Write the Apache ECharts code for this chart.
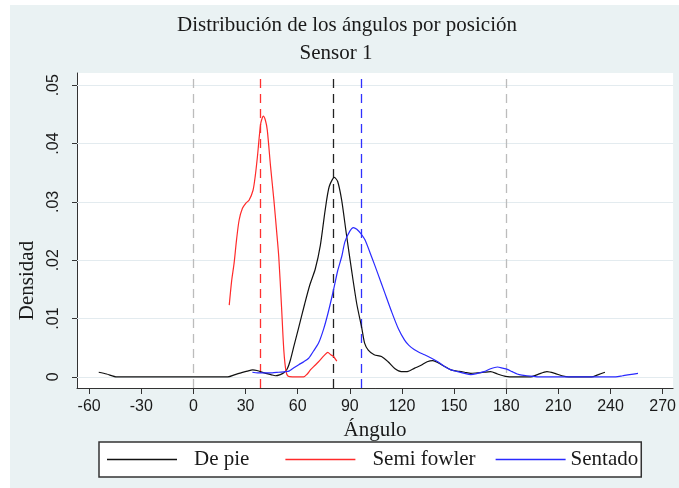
<!DOCTYPE html>
<html>
<head>
<meta charset="utf-8">
<script src="https://cdn.jsdelivr.net/npm/echarts@6/dist/echarts.min.js"></script>
<style>
html,body{margin:0;padding:0;background:#fff;}
#bg{position:absolute;left:10px;top:5px;width:669px;height:483px;background:#eaf2f3;}
#main{position:absolute;left:0;top:0;width:679px;height:488px;}
</style>
</head>
<body>
<div id="bg"></div>
<div id="main"></div>
<script>
// ---- data ----
const titleLine1 = 'Distribución de los ángulos por posición';
const titleLine2 = 'Sensor 1';
const seriesNames = ['De pie', 'Semi fowler', 'Sentado'];

const dePie = [
  [-54.5,0.0008],[-50,0.0005],[-44,0],[-30,0],[0,0],[10,0],[19.8,0],[24,0.0004],[27.4,0.0007],
  [31,0.0010],[34.1,0.0012],[36.5,0.0011],[41.6,0.0006],[44.5,0.0004],[47.2,0.0002],[50,0.0004],
  [52,0.0007],[54,0.0014],[55.8,0.0029],[58,0.0055],[60.6,0.0085],[64,0.0125],[67,0.0158],
  [70.1,0.0185],[73,0.0225],[75.8,0.0286],[78.1,0.0326],[81.1,0.0342],[83,0.0335],[85.3,0.0303],
  [88,0.0245],[91,0.0183],[94,0.0125],[96.8,0.0085],[98.5,0.0058],[100.6,0.0046],[104,0.0038],
  [108.2,0.0035],[112,0.0026],[116,0.0014],[119.6,0.0009],[123,0.0009],[127.3,0.0015],[131,0.0020],
  [134.5,0.0026],[137.7,0.0028],[141,0.0024],[144.5,0.0018],[148.2,0.0012],[152,0.0010],[156,0.0008],
  [159.6,0.0006],[163.5,0.0007],[167.2,0.0008],[171,0.0009],[175,0.0005],[179.6,0.0001],[185,0],
  [194,0],[198,0.0004],[203.4,0.0009],[208,0.0006],[212,0.0002],[216,0],[229,0],[233,0.0004],[236.8,0.0008]
];
const semiFowler = [
  [20.6,0.0123],[22,0.0165],[23.4,0.0195],[24.8,0.0235],[26.3,0.0269],[28.2,0.0289],[30.2,0.0298],
  [32,0.0303],[34.3,0.0320],[35.6,0.0345],[36.8,0.0377],[38.7,0.0434],[40.2,0.0447],[41.4,0.0440],
  [42.5,0.0423],[44.4,0.0360],[46.3,0.0303],[47.8,0.0252],[49.1,0.0206],[50.7,0.0120],[52,0.0046],
  [53.3,0.0009],[54.5,0.0001],[57,0],[63.4,0],[65.5,0.0005],[67.3,0.0012],[70,0.0020],[72,0.0026],
  [75,0.0036],[77.3,0.0042],[79,0.0038],[80.6,0.0035],[82.5,0.0027]
];
const sentado = [
  [33.9,0.0008],[37,0.0007],[40,0.0007],[45.3,0.0007],[49,0.0008],[53,0.0009],[55,0.0010],[57,0.0014],
  [60.6,0.0021],[63.5,0.0026],[66.3,0.0032],[69,0.0044],[72,0.0058],[74.9,0.0082],[77.5,0.0110],
  [80.6,0.0149],[83,0.0182],[85.3,0.0206],[87.2,0.0232],[90,0.0250],[92,0.0256],[94,0.0253],
  [96.5,0.0245],[98.7,0.0235],[102.5,0.0206],[106,0.0178],[110,0.0145],[114,0.0112],[118,0.0082],
  [121.5,0.0063],[124,0.0054],[127,0.0047],[130,0.0042],[133,0.0038],[137,0.0032],[140.6,0.0026],
  [144.5,0.0018],[148.2,0.0012],[152,0.0009],[156,0.0006],[159.6,0.0004],[163.4,0.0006],[167.2,0.0009],
  [171,0.0014],[174.9,0.0017],[178,0.0015],[180.6,0.0013],[183.4,0.0009],[186.3,0.0005],[189,0.0003],
  [192,0.0002],[200,0],[243,0],[247,0.0002],[251,0.0004],[255.8,0.0006]
];
const referenceX = [0, 180];
const meanX = [38.7, 80.6, 96.4];   // Semi fowler, De pie, Sentado
const xTicks = [-60,-30,0,30,60,90,120,150,180,210,240,270];
const yTicks = [0,0.01,0.02,0.03,0.04,0.05];
const yTickLabels = ['0','.01','.02','.03','.04','.05'];

// ---- styles ----
const colors = ['#111111', '#ff2a2a', '#2a2aff'];
const serif = 'Liberation Serif';
const sans = 'Liberation Sans';

const chart = echarts.init(document.getElementById('main'), null, {renderer: 'canvas'});

const gridLines = yTicks.map(v => ({yAxis: v, lineStyle: {color: '#e3ebef', type: 'solid', width: 1}}));
const refLines = referenceX.map(v => ({xAxis: v, lineStyle: {color: '#bcbcbc', type: [9, 6], width: 1.3}}));
const meanLines = [
  {xAxis: meanX[0], lineStyle: {color: '#ff3030', type: [9, 6], width: 1.3}},
  {xAxis: meanX[1], lineStyle: {color: '#222222', type: [9, 6], width: 1.3}},
  {xAxis: meanX[2], lineStyle: {color: '#3030ff', type: [9, 6], width: 1.3}}
];

function mkSeries(name, data, color) {
  return {
    name: name, type: 'line', data: data, showSymbol: false, symbol: 'none',
    smooth: 0.25, lineStyle: {color: color, width: 1.2}, itemStyle: {color: color},
    z: 5, animation: false
  };
}

const legendRich = {
  a: {fontFamily: serif, fontSize: 21, color: '#1a1a1a', lineHeight: 21, padding: [0, 16, 0, 12]},
  b: {fontFamily: serif, fontSize: 21, color: '#1a1a1a', lineHeight: 21, padding: [0, 0, 0, 12]},
  c: {fontFamily: serif, fontSize: 21, color: '#1a1a1a', lineHeight: 21, padding: [0, 0, 0, 0]}
};

const option = {
  backgroundColor: 'transparent',
  animation: false,
  title: [
    {text: titleLine1, left: 347, top: 15, textAlign: 'center', padding: 0,
     textStyle: {fontFamily: serif, fontSize: 21, fontWeight: 'normal', color: '#1a1a1a', lineHeight: 21}},
    {text: titleLine2, left: 336, top: 43, textAlign: 'center', padding: 0,
     textStyle: {fontFamily: serif, fontSize: 21, fontWeight: 'normal', color: '#1a1a1a', lineHeight: 21}}
  ],
  legend: {
    data: seriesNames, left: 99, top: 442, padding: [7, 3, 7, 8],
    backgroundColor: '#ffffff', borderColor: '#333', borderWidth: 1.5, borderRadius: 0,
    icon: 'rect', itemWidth: 70, itemHeight: 1.5, itemGap: 20,
    formatter: function (name) {
      const k = name === seriesNames[0] ? 'a' : (name === seriesNames[1] ? 'b' : 'c');
      return '{' + k + '|' + name + '}';
    },
    textStyle: {fontFamily: serif, fontSize: 21, color: '#1a1a1a', lineHeight: 21, rich: legendRich}
  },
  grid: {left: 77, top: 73, right: 2, bottom: 100, show: true, backgroundColor: '#ffffff', borderWidth: 0, containLabel: false},
  xAxis: {
    type: 'value', min: -67, max: 276,
    name: 'Ángulo', nameLocation: 'middle', nameGap: 28,
    nameTextStyle: {fontFamily: serif, fontSize: 21, color: '#1a1a1a', lineHeight: 21},
    axisLine: {show: true, onZero: false, lineStyle: {color: '#333', width: 1}},
    axisTick: {show: true, length: 6, customValues: xTicks, lineStyle: {color: '#333'}},
    axisLabel: {customValues: xTicks, margin: 11, fontFamily: sans, fontSize: 16, color: '#1a1a1a', lineHeight: 16},
    splitLine: {show: false}
  },
  yAxis: {
    type: 'value', min: -0.0019, max: 0.0521,
    name: 'Densidad', nameLocation: 'middle', nameGap: 34, nameRotate: 90,
    nameTextStyle: {fontFamily: serif, fontSize: 21, color: '#1a1a1a', lineHeight: 21, padding: [0, 100, 0, 0]},
    axisLine: {show: true, onZero: false, lineStyle: {color: '#333', width: 1}},
    axisTick: {show: true, length: 5, customValues: yTicks, lineStyle: {color: '#333'}},
    axisLabel: {customValues: yTicks, rotate: 90, margin: 15, fontFamily: sans, fontSize: 16, color: '#1a1a1a', lineHeight: 16,
      formatter: function (v) { const i = yTicks.findIndex(t => Math.abs(t - v) < 1e-9); return i >= 0 ? yTickLabels[i] : ''; }},
    splitLine: {show: false}
  },
  series: [
    {
      name: 'ref', type: 'line', data: [], silent: true, z: 1,
      markLine: {silent: true, symbol: ['none', 'none'], label: {show: false}, animation: false,
        data: gridLines.concat(refLines)}
    },
    mkSeries(seriesNames[0], dePie, colors[0]),
    mkSeries(seriesNames[1], semiFowler, colors[1]),
    mkSeries(seriesNames[2], sentado, colors[2]),
    {
      name: 'means', type: 'line', data: [], silent: true, z: 6,
      markLine: {silent: true, symbol: ['none', 'none'], label: {show: false}, animation: false, data: meanLines}
    }
  ]
};
chart.setOption(option);
</script>
</body>
</html>
